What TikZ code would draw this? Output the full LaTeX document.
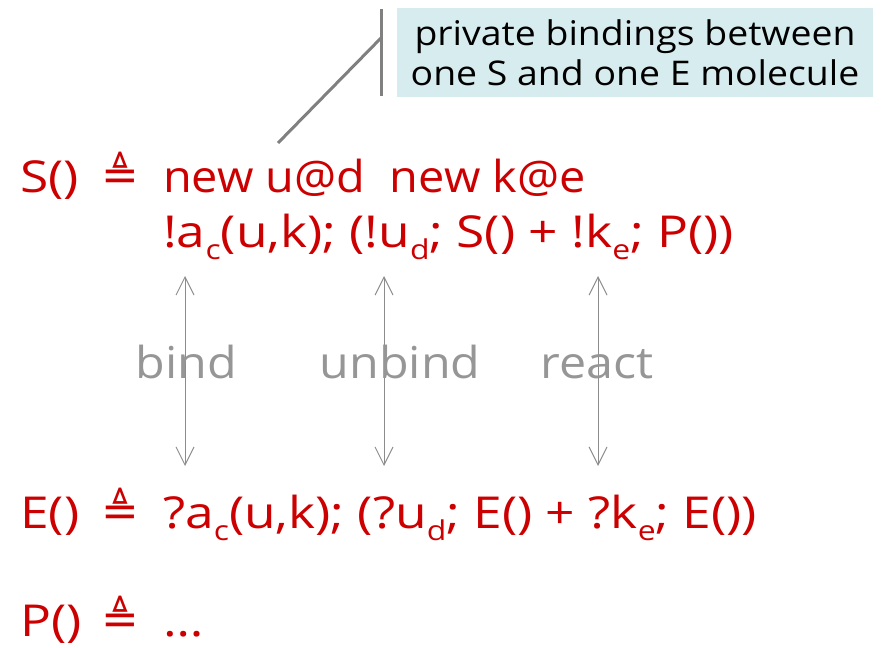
\documentclass[tikz,border=0pt]{standalone}
\usepackage{fontspec}
\setmainfont[FakeStretch=1.1]{Open Sans}
\newfontfamily\deffont[FakeStretch=1.17]{Open Sans}
\newfontfamily\symf{DejaVu Sans}
\usetikzlibrary{arrows.meta}
\definecolor{defred}{RGB}{204,0,0}
\definecolor{lblgray}{RGB}{150,150,150}
\definecolor{arrgray}{RGB}{140,140,140}
\definecolor{notebg}{RGB}{215,236,238}
\definecolor{notegray}{RGB}{128,128,128}
\newcommand\dn[1]{\raisebox{-0.28em}{\scalebox{0.62}{#1}}}
\newcommand\deq{{\symf\fontsize{45}{50}\selectfont ≜}}
\tikzset{
  deftext/.style={text=defred, inner sep=0pt, anchor=base west, font=\deffont\fontsize{44}{50}\selectfont},
  lbltext/.style={text=lblgray, inner sep=0pt, anchor=base, font=\fontsize{44}{50}\selectfont},
  notebox/.style={fill=notebg, inner sep=0pt, minimum width=476pt, minimum height=89pt, align=center, text=black, font=\fontsize{34}{40}\selectfont},
  callout/.style={draw=notegray, line width=3pt},
  reaction/.style={draw=arrgray, line width=1pt, {Straight Barb[length=18pt,width=18pt]}-{Straight Barb[length=18pt,width=18pt]}}
}
\begin{document}
\begin{tikzpicture}[x=1pt,y=-1pt]
\useasboundingbox (0,0) rectangle (890,647);
% note box and callout
\node[notebox] (note) at (635,52.5) {private bindings between\\one S and one E molecule};
\coordinate (cv1) at (381,9);
\coordinate (cv2) at (381,96);
\coordinate (cj) at (381,38);
\coordinate (ctip) at (278,143);
\draw[callout] (cv1) -- (cv2);
\draw[callout] (cj) -- (ctip);
% S definition
\node[deftext] (sname) at (20,192) {S()};
\node[deftext] (seq) at (101,190) {\deq};
\node[deftext] (snew) at (163,192) {\scalebox{0.91}[1]{new u@d\ \ new k@e}};
\node[deftext] (sbody) at (163,247) {!a\dn{c}(u,k); (!u\dn{d}; S() + !k\dn{e}; P())};
% E definition
\node[deftext] (ename) at (20,528) {E()};
\node[deftext] (eeq) at (101,526) {\deq};
\node[deftext] (ebody) at (163,528) {?a\dn{c}(u,k); (?u\dn{d}; E() + ?k\dn{e}; E())};
% P definition
\node[deftext] (pname) at (20,636) {P()};
\node[deftext] (peq) at (101,634) {\deq};
\node[deftext] (pbody) at (163,636) {\dots};
% reaction arrows
\coordinate (b1t) at (185,276);
\coordinate (b1b) at (185,466);
\coordinate (b2t) at (384,276);
\coordinate (b2b) at (384,466);
\coordinate (b3t) at (598,276);
\coordinate (b3b) at (598,466);
\draw[reaction] (b1t) -- (b1b);
\draw[reaction] (b2t) -- (b2b);
\draw[reaction] (b3t) -- (b3b);
\node[lbltext] (lbind) at (186,378) {bind};
\node[lbltext] (lunbind) at (400,378) {unbind};
\node[lbltext] (lreact) at (597,378) {react};
\end{tikzpicture}
\end{document}
